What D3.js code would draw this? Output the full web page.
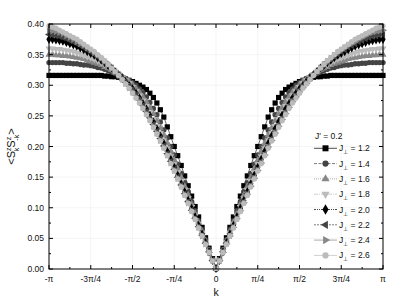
<!DOCTYPE html>
<html>
<head>
<meta charset="utf-8">
<script src="https://cdn.jsdelivr.net/npm/d3@7"></script>
<style>
	body { margin: 0; background: #fff; }
	text { font-family: "Liberation Sans", Arial, sans-serif; fill: #111; }
</style>
</head>
<body>
<svg class="canvas"></svg>
<script>

const width = 407;
const height = 302;

// k = n*pi/48, n = 0..48 (curves are symmetric in k)
const nSteps = 48;
const steps = d3.range(0, nSteps + 1);

const jPerp = ["1.2", "1.4", "1.6", "1.8", "2.0", "2.2", "2.4", "2.6"];

const s12 = [.001, .017, .034, .051, .068, .085, .102, .119, .136, .152, .169, .185, .200, .216, .232, .248, .260, .271, .280, .287, .293, .297, .300, .303, .306, .308, .310, .311, .313, .314, .314, .315, .315, .316, .316, .316, .316, .316, .316, .316, .316, .316, .316, .316, .316, .316, .316, .316, .316];
const s14 = [.001, .016, .032, .048, .064, .079, .095, .110, .126, .141, .156, .171, .186, .200, .214, .227, .240, .252, .262, .272, .281, .288, .294, .300, .304, .308, .311, .314, .317, .319, .322, .324, .326, .328, .329, .331, .332, .333, .333, .334, .335, .335, .336, .336, .337, .337, .337, .337, .337];
const s16 = [.001, .015, .030, .046, .061, .076, .091, .106, .121, .135, .150, .164, .178, .192, .205, .218, .230, .242, .253, .263, .273, .281, .289, .295, .301, .306, .310, .314, .318, .321, .325, .328, .330, .333, .335, .337, .339, .341, .343, .344, .345, .346, .347, .348, .348, .349, .349, .350, .350];
const s18 = [.001, .015, .029, .044, .058, .073, .087, .101, .115, .129, .143, .157, .171, .184, .197, .210, .222, .234, .245, .256, .266, .275, .283, .290, .297, .303, .308, .313, .318, .322, .326, .330, .334, .337, .340, .343, .345, .347, .349, .351, .353, .355, .356, .357, .358, .359, .359, .360, .360];
const s20 = [.001, .014, .028, .043, .057, .071, .085, .099, .112, .126, .139, .153, .166, .179, .192, .205, .217, .229, .240, .251, .261, .270, .279, .287, .294, .300, .306, .312, .317, .322, .328, .332, .337, .341, .345, .349, .352, .355, .358, .361, .364, .366, .368, .370, .372, .373, .374, .375, .375];
const s22 = [.001, .014, .028, .042, .055, .069, .083, .096, .110, .123, .137, .150, .163, .176, .188, .201, .213, .225, .236, .247, .257, .267, .276, .284, .292, .299, .305, .311, .317, .322, .328, .333, .338, .343, .347, .351, .355, .358, .362, .365, .368, .371, .373, .376, .378, .380, .381, .382, .383];
const s24 = [.001, .014, .027, .041, .054, .068, .082, .095, .108, .122, .135, .148, .161, .173, .186, .199, .210, .222, .233, .244, .254, .264, .273, .281, .289, .296, .303, .310, .316, .322, .328, .334, .339, .344, .349, .353, .357, .361, .365, .368, .371, .375, .378, .381, .384, .386, .388, .389, .390];
const s26 = [.001, .013, .027, .040, .054, .067, .081, .094, .107, .120, .134, .147, .160, .172, .185, .197, .209, .220, .231, .242, .252, .262, .271, .279, .287, .295, .302, .309, .316, .322, .328, .334, .340, .345, .350, .355, .359, .363, .367, .371, .375, .378, .381, .384, .387, .390, .393, .395, .397];

const allSeries = [s12, s14, s16, s18, s20, s22, s24, s26];

const colors = ["#000", "#444", "#888", "#bbb", "#000", "#444", "#888", "#bbb"];
const symbols = ["square", "circle", "up", "down", "diamond", "left", "right", "circle"];
const dashes = [null, "3,1.5", "1,1", "4,1,1,1", "2,1,1,1,1,1", "2,1", null, null];

const xTicks = [-4, -3, -2, -1, 0, 1, 2, 3, 4];
const xTickLabels = ["-π", "-3π/4", "-π/2", "-π/4", "0", "π/4", "π/2", "3π/4", "π"];
const yTicks = [0, 0.05, 0.1, 0.15, 0.2, 0.25, 0.3, 0.35, 0.4];

const margin = { left: 49, right: 24, top: 24, bottom: 33 };

const svg = d3.select(".canvas")
	.attr("width", width)
	.attr("height", height);

const x = d3.scaleLinear()
	.domain([-Math.PI, Math.PI])
	.range([margin.left, width - margin.right]);

const y = d3.scaleLinear()
	.domain([0, 0.4])
	.range([height - margin.bottom, margin.top]);

const x0 = margin.left, x1 = width - margin.right;
const y0 = height - margin.bottom, y1 = margin.top;

//grid
const grid = svg.append("g").attr("stroke", "#efefef").attr("stroke-width", 0.6);
xTicks.slice(1, -1).forEach(t => {
	grid.append("line").attr("x1", x(t * Math.PI / 4)).attr("x2", x(t * Math.PI / 4)).attr("y1", y0).attr("y2", y1);
});
yTicks.slice(1, -1).forEach(t => {
	grid.append("line").attr("x1", x0).attr("x2", x1).attr("y1", y(t)).attr("y2", y(t));
});

// data points, mirrored to negative k
const toPoints = vals => {
	const right = steps.map(n => ({ k: n * Math.PI / nSteps, v: vals[n] }));
	const left = steps.slice(1).reverse().map(n => ({ k: -n * Math.PI / nSteps, v: vals[n] }));
	return left.concat(right);
};

const line = d3.line().x(d => x(d.k)).y(d => y(d.v));

const symbolPath = (type, r) => {
	if (type == "square") return d3.symbol(d3.symbolSquare, r * r)();
	if (type == "circle") return d3.symbol(d3.symbolCircle, r * r * 0.85)();
	if (type == "diamond") return d3.symbol(d3.symbolDiamond, r * r * 0.9)();
	return d3.symbol(d3.symbolTriangle, r * r * 0.8)();
};
const symbolRotate = type => type == "down" ? 180 : type == "left" ? -90 : type == "right" ? 90 : 0;

const plot = svg.append("g");

allSeries.forEach((vals, i) => {
	const pts = toPoints(vals);
	plot.append("path")
		.datum(pts)
		.attr("d", line)
		.attr("fill", "none")
		.attr("stroke", colors[i])
		.attr("stroke-width", 0.6)
		.attr("stroke-dasharray", dashes[i]);

	plot.append("g")
		.selectAll("path")
		.data(pts)
		.join("path")
		.attr("d", symbolPath(symbols[i], 5.2))
		.attr("transform", d => `translate(${x(d.k)},${y(d.v)}) rotate(${symbolRotate(symbols[i])})`)
		.attr("fill", colors[i]);
});

//frame and ticks
const axes = svg.append("g").attr("stroke", "#000");
axes.append("rect")
	.attr("x", x0).attr("y", y1)
	.attr("width", x1 - x0).attr("height", y0 - y1)
	.attr("fill", "none").attr("stroke-width", 1);

d3.range(-8, 9).forEach(t => {
	const xx = x(t * Math.PI / 8);
	const len = t % 2 == 0 ? 4 : 2;
	axes.append("line").attr("x1", xx).attr("x2", xx).attr("y1", y0).attr("y2", y0 - len);
	axes.append("line").attr("x1", xx).attr("x2", xx).attr("y1", y1).attr("y2", y1 + len);
});
d3.range(0, 17).forEach(t => {
	const yy = y(t * 0.025);
	const len = t % 2 == 0 ? 4 : 2;
	axes.append("line").attr("x1", x0).attr("x2", x0 + len).attr("y1", yy).attr("y2", yy);
	axes.append("line").attr("x1", x1).attr("x2", x1 - len).attr("y1", yy).attr("y2", yy);
});

svg.append("g")
	.selectAll("text")
	.data(yTicks)
	.join("text")
	.attr("x", x0 - 5)
	.attr("y", d => y(d) + 3)
	.attr("text-anchor", "end")
	.attr("font-size", 8.5)
	.text(d => d.toFixed(2));

svg.append("g")
	.selectAll("text")
	.data(xTicks)
	.join("text")
	.attr("x", d => x(d * Math.PI / 4))
	.attr("y", y0 + 13)
	.attr("text-anchor", "middle")
	.attr("font-size", 8.5)
	.text((d, i) => xTickLabels[i]);

svg.append("text")
	.attr("x", (x0 + x1) / 2)
	.attr("y", y0 + 27)
	.attr("text-anchor", "middle")
	.attr("font-size", 10.5)
	.text("k");

// y label
const yl = svg.append("text")
	.attr("transform", `translate(15, ${(y0 + y1) / 2}) rotate(-90)`)
	.attr("text-anchor", "middle")
	.attr("font-size", 11);
yl.append("tspan").text("<S");
yl.append("tspan").attr("font-size", 7).attr("dy", -4.5).text("z");
yl.append("tspan").attr("font-size", 7).attr("dx", -3.8).attr("dy", 8).text("k");
yl.append("tspan").attr("dy", -3.5).text("S");
yl.append("tspan").attr("font-size", 7).attr("dy", -4.5).text("z");
yl.append("tspan").attr("font-size", 7).attr("dx", -3.8).attr("dy", 8).text("-k");
yl.append("tspan").attr("dy", -3.5).text(">");

//legend
const legend = svg.append("g").attr("transform", "translate(314, 136)");
legend.append("text")
	.attr("x", 1).attr("y", 3)
	.attr("font-size", 8.5)
	.text("J' = 0.2");

jPerp.forEach((j, i) => {
	const ly = 12.3 + i * 15.3;
	const g = legend.append("g").attr("transform", `translate(0, ${ly})`);
	g.append("line")
		.attr("x1", 0).attr("x2", 23)
		.attr("stroke", colors[i])
		.attr("stroke-width", 0.7)
		.attr("stroke-dasharray", dashes[i]);
	g.append("path")
		.attr("d", symbolPath(symbols[i], 6))
		.attr("transform", `translate(11.5,0) rotate(${symbolRotate(symbols[i])})`)
		.attr("fill", colors[i]);
	const t = g.append("text").attr("x", 25).attr("y", 3).attr("font-size", 8.5);
	t.append("tspan").text("J");
	t.append("tspan").attr("font-size", 5.5).attr("dy", 3).text("⊥");
	t.append("tspan").attr("dy", -3).text(" = " + j);
});

</script>
</body>
</html>
